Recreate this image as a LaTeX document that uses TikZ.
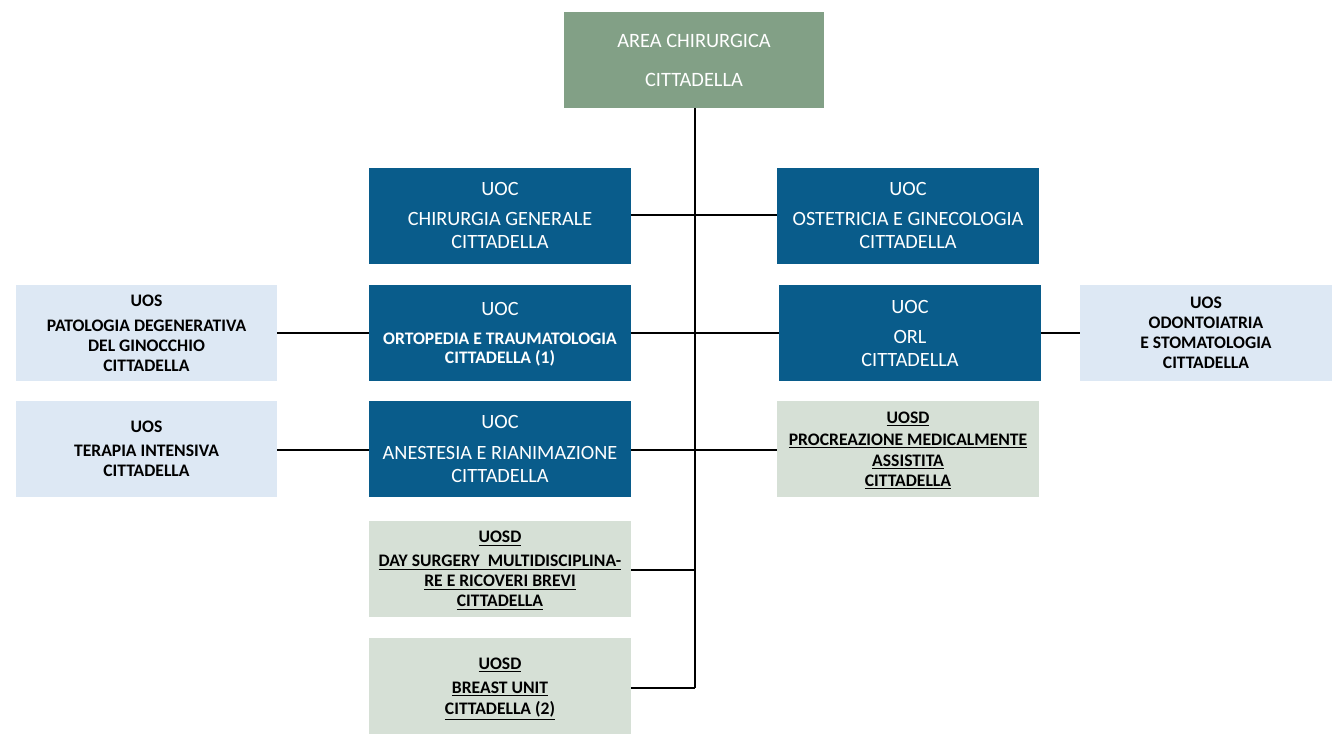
\documentclass[tikz,border=0pt]{standalone}
\usepackage{fontspec}
\setmainfont{Carlito}
\definecolor{areagreen}{RGB}{130,160,134}
\definecolor{uocblue}{RGB}{9,92,139}
\definecolor{uoslight}{RGB}{221,232,244}
\definecolor{uosdgrey}{RGB}{214,224,214}
\newcommand{\ul}[1]{\underline{#1}}
\newcommand{\bsmall}{\bfseries\fontsize{13.2}{14.25}\selectfont}
\tikzset{
  unitbox/.style={rectangle, inner sep=0pt, align=center, text depth=0pt,
    minimum width=196.5pt, minimum height=72pt},
  areabox/.style={unitbox, fill=areagreen, text=white, minimum width=195pt,
    font=\fontsize{15.3}{29.25}\selectfont},
  uocbox/.style={unitbox, fill=uocblue, text=white,
    font=\fontsize{15.2}{17.25}\selectfont},
  uosbox/.style={unitbox, fill=uoslight, text=black, minimum width=195.75pt,
    font=\bfseries\fontsize{13.2}{15}\selectfont},
  uosdbox/.style={unitbox, fill=uosdgrey, text=black,
    font=\bfseries\fontsize{13.2}{15}\selectfont},
  link/.style={draw=black, line width=1.1pt}
}
\begin{document}
\begin{tikzpicture}[x=0.75pt, y=-0.75pt]
\useasboundingbox (0,0) rectangle (1333,736);

% head of the department
\node[areabox] (area) at (694,60) {AREA CHIRURGICA\\CITTADELLA};

% complex operating units
\node[uocbox] (chir) at (500,215.5) {UOC\\[5.25pt]CHIRURGIA GENERALE\\CITTADELLA};
\node[uocbox] (oste) at (908,215.5) {UOC\\[5.25pt]OSTETRICIA E GINECOLOGIA\\CITTADELLA};
\node[uocbox] (orto) at (500,333)
  {UOC\\[4.25pt]{\bsmall ORTOPEDIA E TRAUMATOLOGIA}\\[-3pt]{\bsmall CITTADELLA (1)}};
\node[uocbox] (orl) at (910,333) {UOC\\[5.25pt]ORL\\CITTADELLA};
\node[uocbox] (anes) at (500,449) {UOC\\[6pt]ANESTESIA E RIANIMAZIONE\\CITTADELLA};

% simple operating units
\node[uosbox] (pato) at (146.5,333)
  {UOS\\[3.75pt]PATOLOGIA DEGENERATIVA\\DEL GINOCCHIO\\CITTADELLA};
\node[uosbox, minimum width=189pt] (odon) at (1206,333)
  {UOS\\ODONTOIATRIA\\E STOMATOLOGIA\\CITTADELLA};
\node[uosbox] (tera) at (146.5,449)
  {UOS\\[3pt]TERAPIA INTENSIVA\\CITTADELLA};

% departmental simple units
\node[uosdbox] (proc) at (908,449)
  {\ul{UOSD}\\[1.5pt]\ul{PROCREAZIONE MEDICALMENTE}\\[0.75pt]\ul{ASSISTITA}\\\ul{CITTADELLA}};
\node[uosdbox] (days) at (500,569)
  {\ul{UOSD}\\[3pt]\ul{DAY SURGERY\ \ MULTIDISCIPLINA-}\\\ul{RE E RICOVERI BREVI}\\\ul{CITTADELLA}};
\node[uosdbox] (brea) at (500,686)
  {\ul{UOSD}\\[3pt]\ul{BREAST UNIT}\\[0.75pt]\ul{CITTADELLA (2)}};

% connectors
\coordinate (trunkend) at (695,688);
\draw[link] (area.south -| trunkend) -- (trunkend);
\draw[link] (chir.east |- 0,215) -- (oste.west |- 0,215);
\draw[link] (pato.east) -- (orto.west);
\draw[link] (orto.east) -- (orl.west);
\draw[link] (orl.east) -- (odon.west);
\draw[link] (tera.east |- 0,450) -- (anes.west |- 0,450);
\draw[link] (anes.east |- 0,450) -- (proc.west |- 0,450);
\draw[link] (days.east |- 0,570) -- (trunkend |- 0,570);
\draw[link] (brea.east |- trunkend) -- (trunkend);
\end{tikzpicture}
\end{document}
